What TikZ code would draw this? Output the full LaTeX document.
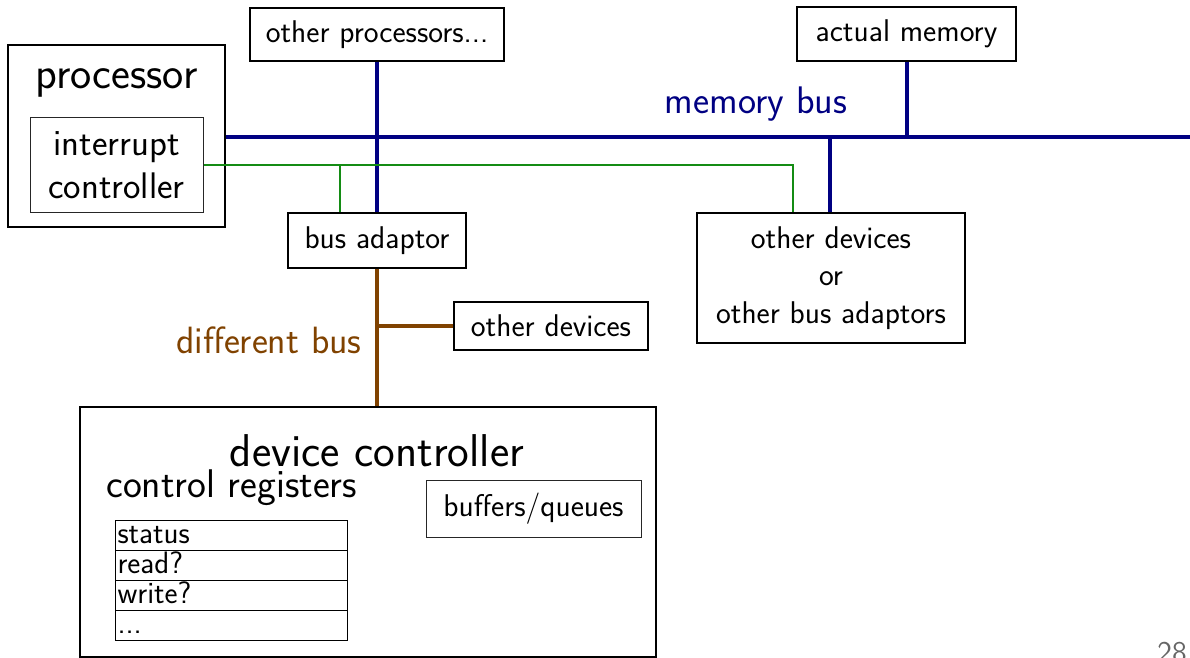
\documentclass[tikz,border=0pt]{standalone}
\usepackage{fontspec}
\begin{document}
\begin{tikzpicture}[x=0.5pt,y=-0.5pt,
  font=\sffamily\fontsize{15.7}{18.75}\selectfont,
  box/.style={draw=black,line width=1pt,inner sep=0pt,align=center},
  thinbox/.style={draw=black!85,line width=0.5pt,inner sep=0pt,align=center},
  txt/.style={inner sep=0pt,align=center},
  membus/.style={draw={rgb,255:red,0;green,0;blue,130},line width=2pt},
  irqline/.style={draw={rgb,255:red,20;green,140;blue,20},line width=0.9pt},
  devbus/.style={draw={rgb,255:red,128;green,66;blue,0},line width=2pt},
  reg/.style={draw=black,line width=0.5pt,minimum width=116pt,minimum height=15pt,
              inner xsep=1pt,inner ysep=1pt,text height=10pt,text depth=2.5pt,
              text width=114pt,align=left,
              font=\sffamily\fontsize{15.5}{15}\selectfont}]
\useasboundingbox (0,0) rectangle (1190,658);

% processor with its interrupt controller
\node[box,minimum width=108.5pt,minimum height=91pt] (proc) at (116.5,136) {};
\node[txt,font=\sffamily\fontsize{22.5}{26}\selectfont] (proclbl) at (116.5,83) {processor};
\node[thinbox,minimum width=86.5pt,minimum height=47.5pt,
      font=\sffamily\fontsize{18.5}{21.5}\selectfont] (irq) at (116.5,165.5) {interrupt\\controller};

% boxes on the memory bus
\node[box,minimum width=127pt,minimum height=26.5pt] (otherproc) at (377,34.5) {other processors...};
\node[box,minimum width=109.5pt,minimum height=27pt] (mem) at (906.5,34) {actual memory};
\node[box,minimum width=89pt,minimum height=27.5pt] (adaptor) at (377,240.5) {bus adaptor};
\node[box,minimum width=134pt,minimum height=65pt] (more) at (831,278) {other devices\\or\\other bus adaptors};

% devices on the second bus
\node[box,minimum width=97pt,minimum height=24pt] (devs) at (551,326) {other devices};
\node[box,minimum width=288pt,minimum height=125pt] (devctl) at (368,532) {};
\node[txt,font=\sffamily\fontsize{23}{26}\selectfont] (devlbl) at (377,451) {device controller};
\node[txt,font=\sffamily\fontsize{20}{23}\selectfont,anchor=west] (reglbl) at (106,488) {control registers};
\node[thinbox,minimum width=107.5pt,minimum height=28.5pt] (bufs) at (533.5,508.5) {buffers/queues};

% register file
\node[reg,anchor=north west] (r1) at (115,520) {status};
\node[reg,anchor=north west] (r2) at (115,550) {read?};
\node[reg,anchor=north west] (r3) at (115,580) {write?};
\node[reg,anchor=north west] (r4) at (115,610) {...};

% memory bus
\coordinate (busR) at (1190,137);
\coordinate (busM) at (830,137);
\draw[membus] (proc.east |- busR) -- (busR);
\draw[membus] (otherproc.south) -- (adaptor.north);
\draw[membus] (mem.south) -- (mem.south |- busR);
\draw[membus] (busM) -- (busM |- more.north);
\node[txt,text={rgb,255:red,0;green,0;blue,130},font=\sffamily\fontsize{19.2}{22}\selectfont] (buslbl) at (756,104) {memory bus};

% interrupt lines
\coordinate (gtap) at (340,165);
\coordinate (gturn) at (793,165);
\draw[irqline] (irq.east |- gtap) -- (gturn) -- (gturn |- more.north);
\draw[irqline] (gtap) -- (gtap |- adaptor.north);

% second bus
\draw[devbus] (adaptor.south) -- (adaptor.south |- devctl.north);
\draw[devbus] (adaptor.south |- devs.west) -- (devs.west);
\node[txt,anchor=east,text={rgb,255:red,128;green,66;blue,0},font=\sffamily\fontsize{19}{22}\selectfont] (dbuslbl) at (362,340) {different bus};

% page number
\node[txt,text=black!60,font=\sffamily\fontsize{15}{17}\selectfont,anchor=north] (pageno) at (1172,642) {28};
\end{tikzpicture}
\end{document}
